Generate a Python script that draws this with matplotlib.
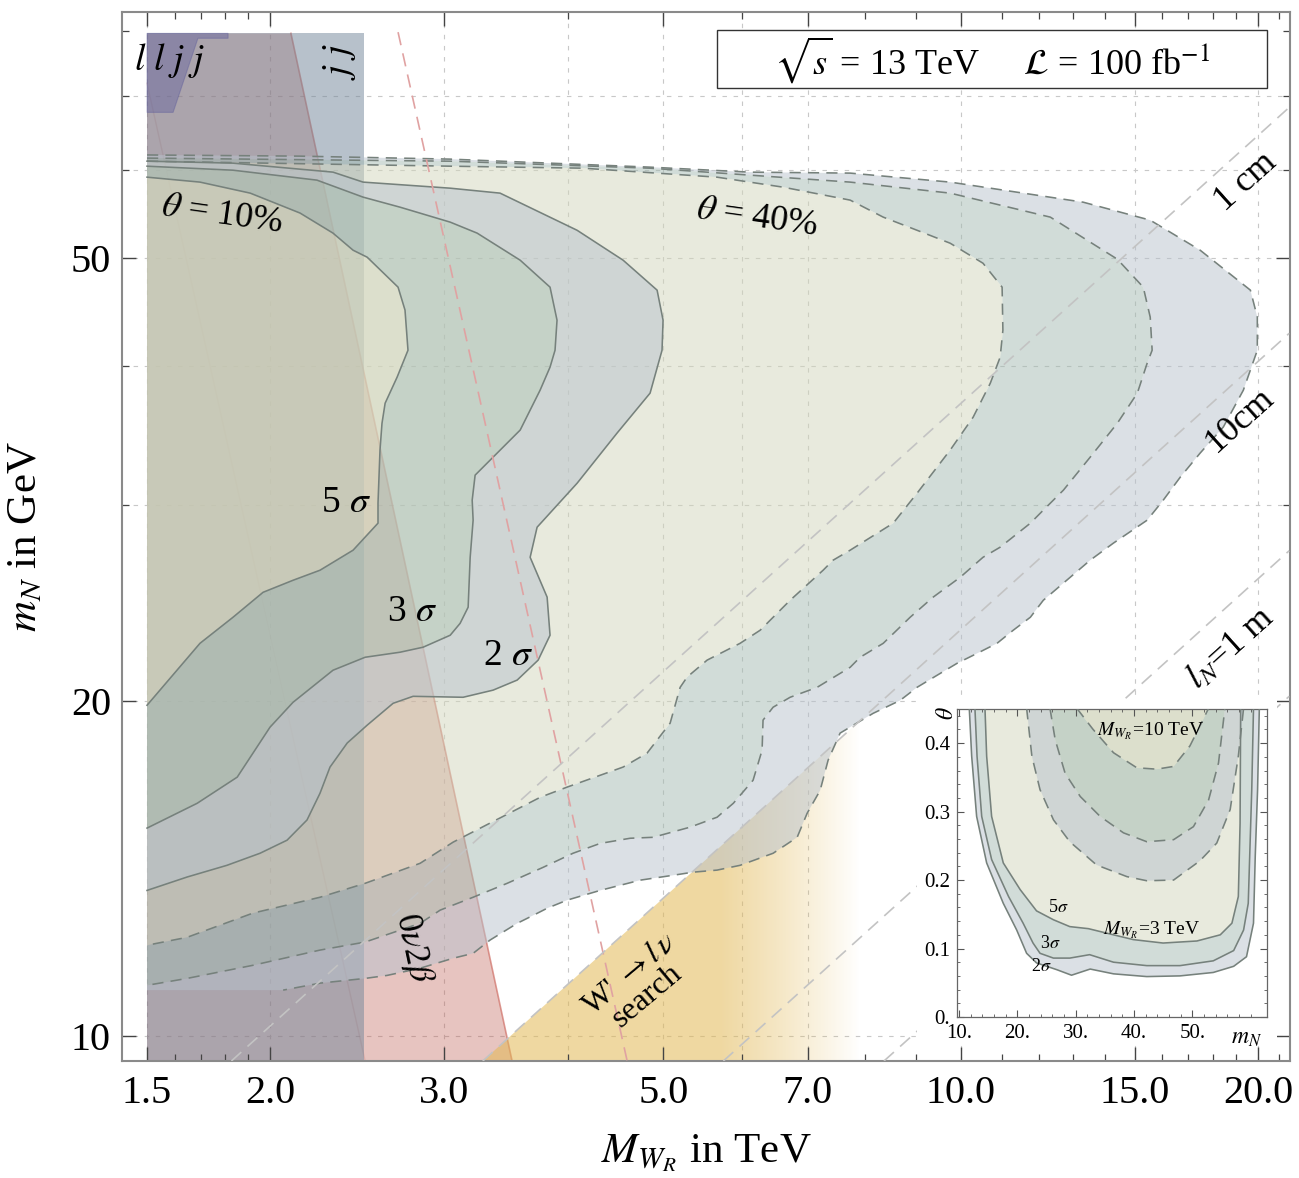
import numpy as np
import matplotlib.pyplot as plt
from matplotlib.patches import Polygon, Rectangle, PathPatch
from matplotlib.path import Path
from matplotlib.ticker import FixedLocator, FixedFormatter, NullFormatter

plt.rcParams['font.family'] = ['Liberation Serif', 'DejaVu Serif']
plt.rcParams['mathtext.fontset'] = 'stix'

# ---- main panel: discovery regions in (M_WR [TeV], m_N [GeV]) ----
# theta = 40% (dashed), 2/3/5 sigma
d2_x = [1.5, 2.143, 3.041, 3.838, 4.846, 6.118, 7.726, 9.755, 13.30, 15.55, 17.47, 19.64, 19.96, 19.96,
        19.32, 18.44, 17.47, 16.68, 16.03, 15.44, 14.27, 13.52, 12.70, 12.12, 11.76, 11.30, 10.88, 10.39,
        9.915, 9.53, 9.03, 8.68, 8.15, 7.547, 7.339, 7.204, 6.989, 6.828, 6.456, 5.977, 5.665, 5.357,
        5.113, 4.736, 4.313, 3.993, 3.812, 3.690, 3.555, 3.337, 3.208, 3.062, 2.835, 2.625, 2.494, 2.245,
        2.060, 1.5]
d2_y = [61.9, 61.75, 61.37, 60.86, 60.36, 59.74, 59.62, 58.52, 56.14, 54.09, 50.83, 46.80, 44.26, 41.33,
        38.05, 35.26, 33.41, 31.79, 30.31, 29.08, 27.73, 26.77, 25.53, 24.64, 23.79, 23.16, 22.54, 22.08,
        21.63, 21.18, 20.58, 20.03, 19.50, 18.72, 17.70, 16.63, 15.86, 15.09, 14.60, 14.24, 14.10, 14.04,
        13.95, 13.81, 13.52, 13.25, 13.03, 12.84, 12.63, 12.20, 11.87, 11.75, 11.51, 11.34, 11.27, 11.16,
        11.00, 11.00]

d3_x = [1.5, 3.041, 4.846, 7.726, 9.755, 12.32, 14.40, 15.30, 15.55, 15.62, 15.44, 15.09, 14.40, 13.52,
        12.70, 12.12, 11.76, 10.96, 10.53, 9.985, 9.375, 8.886, 8.345, 7.908, 7.726, 7.154, 6.717, 6.456,
        6.306, 6.292, 6.161, 5.884, 5.665, 5.320, 4.880, 4.625, 4.313, 4.049, 3.776, 3.473, 3.208, 2.971,
        2.835, 2.494, 2.245, 1.920, 1.647, 1.5]
d3_y = [61.50, 61.11, 60.23, 58.52, 57.20, 54.43, 49.9, 47.09, 44.26, 41.33, 40.24, 37.82, 35.53, 33.13,
        30.94, 29.69, 28.90, 27.50, 26.93, 25.84, 24.80, 23.79, 22.54, 21.90, 21.45, 20.58, 20.16, 19.75,
        19.23, 18.07, 16.98, 16.19, 15.73, 15.41, 15.09, 15.06, 14.90, 14.60, 14.18, 13.72, 13.33, 12.98,
        12.63, 12.15, 11.95, 11.58, 11.27, 11.11]

d5_x = [1.5, 3.041, 4.145, 5.665, 6.608, 7.726, 8.345, 9.03, 9.755, 10.53, 11.01, 11.03, 10.96, 10.71,
        10.29, 9.755, 9.03, 8.542, 7.726, 7.425, 7.254, 6.717, 6.264, 5.977, 5.535, 5.283, 5.198, 5.078,
        4.812, 4.551, 3.993, 3.750, 3.337, 3.062, 2.835, 2.494, 2.245, 1.920, 1.647, 1.5]
d5_y = [61.11, 60.48, 60.23, 59.12, 57.91, 56.38, 54.43, 52.97, 51.57, 49.48, 47.09, 43.08, 40.74, 38.60,
        35.98, 33.62, 30.75, 28.90, 27.33, 26.77, 26.22, 24.64, 23.16, 22.54, 21.77, 21.02, 20.58, 19.11,
        17.96, 17.45, 16.74, 16.39, 15.54, 14.94, 14.30, 13.72, 13.33, 12.90, 12.27, 12.07]

# theta = 10% (solid), 2/3/5 sigma
s2_x = [1.5, 1.833, 2.314, 2.482, 3.041, 3.416, 4.088, 4.551, 4.926, 4.995, 4.983, 4.846, 4.487, 4.088,
        3.724, 3.664, 3.812, 3.838, 3.733, 3.555, 3.361, 3.134, 2.789, 2.662, 2.506, 2.392, 2.298, 2.245,
        2.178, 2.079, 1.952, 1.807, 1.647, 1.5]
s2_y = [61.11, 60.86, 59.74, 58.52, 57.79, 57.20, 52.97, 49.79, 46.80, 43.98, 41.33, 37.82, 34.82, 31.39,
        28.66, 26.93, 24.80, 22.92, 21.77, 20.89, 20.46, 20.16, 20.20, 19.91, 19.03, 18.34, 17.45, 16.53,
        15.64, 15.00, 14.60, 14.24, 13.90, 13.52]

s3_x = [1.5, 1.833, 2.229, 2.482, 2.706, 3.041, 3.238, 3.580, 3.838, 3.901, 3.883, 3.838, 3.750, 3.580,
        3.361, 3.223, 3.201, 3.208, 3.186, 3.171, 3.112, 3.041, 2.855, 2.706, 2.494, 2.314, 2.108, 1.998,
        1.851, 1.686, 1.5]
s3_y = [60.48, 59.98, 58.76, 56.73, 55.56, 53.87, 52.66, 49.79, 47.09, 43.98, 41.33, 39.91, 38.05, 35.04,
        33.13, 31.92, 30.31, 29.08, 26.93, 24.29, 23.49, 22.92, 22.36, 22.13, 21.90, 21.32, 19.95, 18.95,
        17.09, 16.19, 15.38]

s5_x = [1.5, 1.697, 1.908, 2.143, 2.314, 2.425, 2.506, 2.693, 2.737, 2.756, 2.687, 2.613, 2.594, 2.582,
        2.570, 2.570, 2.425, 2.245, 2.108, 1.966, 1.833, 1.697, 1.5]
s5_y = [59.12, 58.52, 57.20, 54.89, 52.66, 50.83, 50.1, 47.09, 44.91, 41.33, 39.09, 37.04, 35.53, 33.62,
        30.12, 28.90, 27.33, 26.22, 25.68, 25.05, 23.79, 22.54, 19.83]

# exclusion regions
jj_x = [1.5, 2.488, 2.488, 1.5]
jj_y = [9.5, 9.5, 79.6, 79.6]
llj_x = [1.5, 1.812, 1.812, 1.689, 1.594, 1.5]
llj_y = [79.6, 79.6, 78.8, 78.8, 67.6, 67.6]
bb_x = [1.5, 2.098, 3.513, 1.5]          # 0nu2beta
bb_y = [79.6, 79.6, 9.5, 9.5]
bb2_x = [1.5, 2.494]
bb2_y = [71.8, 9.5]
bb_future_x = [2.693, 4.594]
bb_future_y = [79.8, 9.5]
wprime_x = [3.281, 21.5, 21.5]
wprime_y = [9.5, 42.8, 9.5]
wprime_full_to, wprime_gone_at = 5.7, 7.9   # TeV, where the shading starts/ends fading

# decay length lines l_N
decay_lines = {'1cm': ([1.826, 21.5], [9.5, 68.3]),
               '10cm': ([3.281, 21.5], [9.5, 42.8]),
               '1m': ([5.749, 21.5], [9.5, 27.3]),
               '5m': ([8.36, 21.5], [9.5, 20.2])}

x_major = [1.5, 2, 3, 5, 7, 10, 15, 20]
x_major_lab = ['1.5', '2.0', '3.0', '5.0', '7.0', '10.0', '15.0', '20.0']
x_minor = [1.6, 1.7, 1.8, 1.9, 4, 6, 8, 9, 11, 12, 13, 14, 16, 17, 18, 19, 21]
y_major = [10, 20, 50]
y_major_lab = ['10', '20', '50']
y_minor = [30, 40, 60, 70, 80]
grid_x = [1.5, 2, 3, 4, 5, 6, 7, 10, 15, 20]
grid_y = [10, 20, 30, 40, 50, 60, 70]

# ---- inset: (m_N, theta) ----
i2_x = [11.77, 12.18, 13.03, 14.75, 17.6, 19.9, 21.6, 23.3, 26.8, 29.3, 32.5, 36.5, 42.2, 47.9, 53.6,
        57.1, 59.3, 60.5, 60.8, 61.2, 61.5]
i2_y = [0.451, 0.381, 0.293, 0.225, 0.166, 0.127, 0.093, 0.079, 0.069, 0.061, 0.070, 0.063, 0.059, 0.060,
        0.065, 0.074, 0.088, 0.137, 0.235, 0.332, 0.451]
i3_x = [12.74, 13.1, 13.9, 15.6, 18.5, 21.0, 22.7, 23.9, 26.2, 29.0, 32.4, 36.5, 42.2, 47.9, 53.6, 57.1,
        58.8, 59.6, 60.2, 60.5]
i3_y = [0.451, 0.381, 0.293, 0.230, 0.176, 0.137, 0.108, 0.093, 0.086, 0.086, 0.091, 0.080, 0.075, 0.075,
        0.082, 0.097, 0.127, 0.166, 0.332, 0.451]
i5_x = [14.46, 14.75, 15.6, 17.6, 20.5, 23.3, 26.2, 29.0, 32.2, 36.5, 39.9, 45.0, 50.8, 54.8, 56.8, 57.9,
        58.2, 58.3]
i5_y = [0.451, 0.381, 0.293, 0.225, 0.186, 0.155, 0.142, 0.132, 0.129, 0.120, 0.113, 0.108, 0.111, 0.120,
        0.137, 0.176, 0.283, 0.451]
j2_x = [21.6, 22.5, 23.9, 26.2, 29.0, 33.6, 38.8, 42.2, 46.8, 51.3, 54.2, 56.5, 57.9, 58.8]
j2_y = [0.451, 0.381, 0.332, 0.288, 0.256, 0.222, 0.205, 0.199, 0.200, 0.228, 0.254, 0.303, 0.381, 0.451]
j3_x = [25.6, 26.5, 28.2, 30.8, 34.2, 38.2, 42.2, 46.8, 50.2, 52.8, 54.5, 55.6]
j3_y = [0.451, 0.405, 0.356, 0.322, 0.293, 0.269, 0.256, 0.259, 0.278, 0.317, 0.371, 0.451]
j5_x = [30.2, 33.0, 36.5, 40.5, 43.9, 46.8, 49.6, 51.6, 52.8]
j5_y = [0.451, 0.420, 0.386, 0.364, 0.362, 0.366, 0.396, 0.430, 0.451]

# band colours (2-3 sigma, 3-5 sigma, >5 sigma), drawn at half opacity
P2, P3, P5 = '#b8c2cc', '#a4bbb2', '#d2d6bc'
EDGE = '#76817c'


def orient(xs, ys, logx, logy):
    px = np.log10(xs) if logx else np.asarray(xs, float)
    py = np.log10(ys) if logy else np.asarray(ys, float)
    return 0.5 * np.sum(px * np.roll(py, -1) - np.roll(px, -1) * py)


def band(a, outer, inner, col, z, logx=True, logy=True):
    ox, oy = outer
    verts = list(zip(ox, oy)) + [(ox[0], oy[0])]
    codes = [Path.MOVETO] + [Path.LINETO] * (len(ox) - 1) + [Path.CLOSEPOLY]
    if inner is not None:
        ix, iy = list(inner[0]), list(inner[1])
        if np.sign(orient(ox, oy, logx, logy)) == np.sign(orient(ix, iy, logx, logy)):
            ix, iy = ix[::-1], iy[::-1]
        verts += list(zip(ix, iy)) + [(ix[0], iy[0])]
        codes += [Path.MOVETO] + [Path.LINETO] * (len(ix) - 1) + [Path.CLOSEPOLY]
    a.add_patch(PathPatch(Path(verts, codes), facecolor=col, alpha=0.5, edgecolor='none', zorder=z))


def edge(a, xs, ys, ls, z=4):
    line, = a.plot(xs, ys, color=EDGE, lw=1.15, zorder=z)
    if ls == 'dashed':
        line.set_dashes((7, 4.5))


fig = plt.figure(figsize=(12.99, 11.78), dpi=100)
ax = fig.add_axes([0.09392, 0.09932, 0.89915, 0.89049])
ax.set_xscale('log')
ax.set_yscale('log')

for g in grid_x:
    ax.axvline(g, color='#c8c8c8', lw=0.8, ls=(0, (4, 6)), zorder=0)
for g in grid_y:
    ax.axhline(g, color='#c8c8c8', lw=0.8, ls=(0, (4, 6)), zorder=0)

# exclusions (underneath the signal regions)
ax.add_patch(Polygon(list(zip(bb_x, bb_y)), closed=True, facecolor='#bd564b', alpha=0.35,
                     edgecolor='none', zorder=1))
ax.plot(bb_x[1:3], bb_y[1:3], color='#cf6f66', lw=1.2, alpha=0.7, zorder=1.05)
ax.plot(bb2_x, bb2_y, color='#c98a84', lw=1.0, alpha=0.35, zorder=1.05)
ax.add_patch(Polygon(list(zip(jj_x, jj_y)), closed=True, facecolor='#718599', alpha=0.5,
                     edgecolor='none', zorder=1.1))
ax.add_patch(Polygon(list(zip(llj_x, llj_y)), closed=True, facecolor='#5c5b9b', alpha=0.4,
                     edgecolor='#5c5b9b', lw=0.8, zorder=1.2))

# W' -> l nu search, fading towards large M_WR
wp = Polygon(list(zip(wprime_x, wprime_y)), closed=True, facecolor='none', edgecolor='none')
ax.add_patch(wp)
ext_x0, ext_x1 = 3.2, 9.0
t = np.linspace(ext_x0, ext_x1, 600)
fade = np.clip((wprime_gone_at - t) / (wprime_gone_at - wprime_full_to), 0, 1)
rgba = np.zeros((2, 600, 4))
rgba[..., 0], rgba[..., 1], rgba[..., 2] = 0.89, 0.725, 0.333
rgba[..., 3] = 0.55 * fade
im = ax.imshow(rgba, extent=(ext_x0, ext_x1, 9.5, 45), aspect='auto', interpolation='bilinear',
               zorder=1.3)
im.set_clip_path(wp)

# signal bands
band(ax, (d2_x, d2_y), (d3_x, d3_y), P2, 2.0)
band(ax, (d3_x, d3_y), (d5_x, d5_y), P3, 2.0)
band(ax, (d5_x, d5_y), None, P5, 2.0)
band(ax, (s2_x, s2_y), (s3_x, s3_y), P2, 2.5)
band(ax, (s3_x, s3_y), (s5_x, s5_y), P3, 2.5)
band(ax, (s5_x, s5_y), None, P5, 2.5)
edge(ax, d2_x[:-1], d2_y[:-1], 'dashed')
edge(ax, d3_x, d3_y, 'dashed')
edge(ax, d5_x, d5_y, 'dashed')
edge(ax, s2_x, s2_y, 'solid')
edge(ax, s3_x, s3_y, 'solid')
edge(ax, s5_x, s5_y, 'solid')

ax.plot(bb_future_x, bb_future_y, color='#e0a2a2', lw=1.2, dashes=(8, 5), zorder=4.5)
for key, (lx, ly) in decay_lines.items():
    ax.plot(lx, ly, color='#c3c3c3', lw=1.2, dashes=(8, 5), zorder=4.5)

ax.set_xlim(1.415, 21.54)
ax.set_ylim(9.5, 83.2)

ax.xaxis.set_major_locator(FixedLocator(x_major))
ax.xaxis.set_major_formatter(FixedFormatter(x_major_lab))
ax.xaxis.set_minor_locator(FixedLocator(x_minor))
ax.xaxis.set_minor_formatter(NullFormatter())
ax.yaxis.set_major_locator(FixedLocator(y_major))
ax.yaxis.set_major_formatter(FixedFormatter(y_major_lab))
ax.yaxis.set_minor_locator(FixedLocator(y_minor))
ax.yaxis.set_minor_formatter(NullFormatter())
ax.tick_params(which='both', direction='in', top=True, right=True, color='#444444')
ax.tick_params(which='major', length=10, width=1.0, labelsize=29)
ax.tick_params(axis='x', which='major', pad=10)
ax.tick_params(axis='y', which='major', pad=8)
ax.tick_params(which='minor', length=5, width=0.9)
for s in ax.spines.values():
    s.set_color('#8a8a8a')
    s.set_linewidth(1.5)

ax.set_xlabel(r'$M_{W_R}$ in TeV', fontsize=31)
ax.set_ylabel(r'$m_N$ in GeV', fontsize=31)
ax.xaxis.set_label_coords(0.5, -0.068)
ax.yaxis.set_label_coords(-0.066, 0.5)

# labels inside the plot
ax.text(1.582, 75.3, r'$l\,\,l\,\,j\,\,j$', fontsize=27, ha='center', va='center', zorder=6)
ax.text(2.352, 75.0, r'$j\,\,j$', fontsize=27, ha='center', va='center', rotation=90, zorder=6)
ax.text(1.787, 54.65, r'$\theta$ = 10%', fontsize=26, ha='center', va='center', rotation=-8, zorder=6)
ax.text(6.22, 54.3, r'$\theta$ = 40%', fontsize=26, ha='center', va='center', rotation=-8, zorder=6)
ax.text(2.386, 30.12, r'5 $\sigma$', fontsize=27, ha='center', va='center', zorder=6)
ax.text(2.782, 24.04, r'3 $\sigma$', fontsize=27, ha='center', va='center', zorder=6)
ax.text(3.48, 21.95, r'2 $\sigma$', fontsize=27, ha='center', va='center', zorder=6)
ax.text(19.41, 58.52, '1 cm', fontsize=26, ha='center', va='center', rotation=42, zorder=6)
ax.text(19.18, 35.8, '10cm', fontsize=26, ha='center', va='center', rotation=42, zorder=6)
ax.text(18.74, 22.32, r'$l_N$=1 m', fontsize=26, ha='center', va='center', rotation=42, zorder=6)
ax.text(2.789, 12.0, r'0$\nu$2$\beta$', fontsize=25, ha='center', va='center', rotation=-78, zorder=6)
ax.text(4.714, 11.11, "W' $\\rightarrow l\\,\\nu$\nsearch", fontsize=23, ha='center', va='center',
        rotation=40, linespacing=0.95, zorder=6)

# energy / luminosity box
ax.add_patch(Rectangle((0.5094, 0.9275), 0.4709, 0.0553, transform=ax.transAxes, facecolor='white',
                       edgecolor='#333333', lw=1.0, zorder=8))
ax.text(0.7449, 0.9543, r'$\sqrt{s}$ = 13 TeV     $\mathcal{L}$ = 100 fb$^{-1}$', transform=ax.transAxes,
        ha='center', va='center', fontsize=26, zorder=9)

# white backing for the inset
ax.add_patch(Rectangle((0.6807, 0.02), 0.3082, 0.3241, transform=ax.transAxes, facecolor='white',
                       edgecolor='none', zorder=10))

# ---- inset ----
axi = fig.add_axes([0.7367, 0.1367, 0.2386, 0.2615], zorder=11)
axi.set_facecolor('white')
band(axi, (i2_x, i2_y), (i3_x, i3_y), P2, 1, False, False)
band(axi, (i3_x, i3_y), (i5_x, i5_y), P3, 1, False, False)
band(axi, (i5_x, i5_y), None, P5, 1, False, False)
band(axi, (j2_x, j2_y), (j3_x, j3_y), P2, 1.5, False, False)
band(axi, (j3_x, j3_y), (j5_x, j5_y), P3, 1.5, False, False)
band(axi, (j5_x, j5_y), None, P5, 1.5, False, False)
for xs, ys in [(i2_x, i2_y), (i3_x, i3_y), (i5_x, i5_y)]:
    edge(axi, xs, ys, 'solid')
for xs, ys in [(j2_x, j2_y), (j3_x, j3_y), (j5_x, j5_y)]:
    edge(axi, xs, ys, 'dashed')
axi.set_xlim(9.66, 62.8)
axi.set_ylim(0, 0.45)
axi.set_xticks([10, 20, 30, 40, 50])
axi.set_xticklabels(['10.', '20.', '30.', '40.', '50.'])
axi.set_yticks([0, 0.1, 0.2, 0.3, 0.4])
axi.set_yticklabels(['0.', '0.1', '0.2', '0.3', '0.4'])
axi.xaxis.set_minor_locator(FixedLocator(np.arange(12, 62, 2)))
axi.yaxis.set_minor_locator(FixedLocator(np.arange(0.02, 0.45, 0.02)))
axi.tick_params(which='both', direction='in', top=True, right=True, color='#555555')
axi.tick_params(which='major', length=5, width=0.8, labelsize=15, pad=5)
axi.tick_params(which='minor', length=2.5, width=0.6)
for s in axi.spines.values():
    s.set_color('#666666')
    s.set_linewidth(0.9)
axi.text(0.935, -0.07, r'$m_N$', transform=axi.transAxes, fontsize=17, ha='center', va='center')
axi.text(-0.03, 0.985, r'$\theta$', transform=axi.transAxes, fontsize=17, ha='center', va='center',
         rotation=90)
axi.text(42.8, 0.417, r'$M_{W_R}$=10 TeV', fontsize=14, ha='center', va='center', zorder=5)
axi.text(43.1, 0.127, r'$M_{W_R}$=3 TeV', fontsize=14, ha='center', va='center', zorder=5)
axi.text(27.0, 0.160, r'5$\sigma$', fontsize=13, ha='center', va='center', zorder=5)
axi.text(25.6, 0.108, r'3$\sigma$', fontsize=13, ha='center', va='center', zorder=5)
axi.text(24.2, 0.073, r'2$\sigma$', fontsize=13, ha='center', va='center', zorder=5)

fig.savefig('out.png', dpi=100)
